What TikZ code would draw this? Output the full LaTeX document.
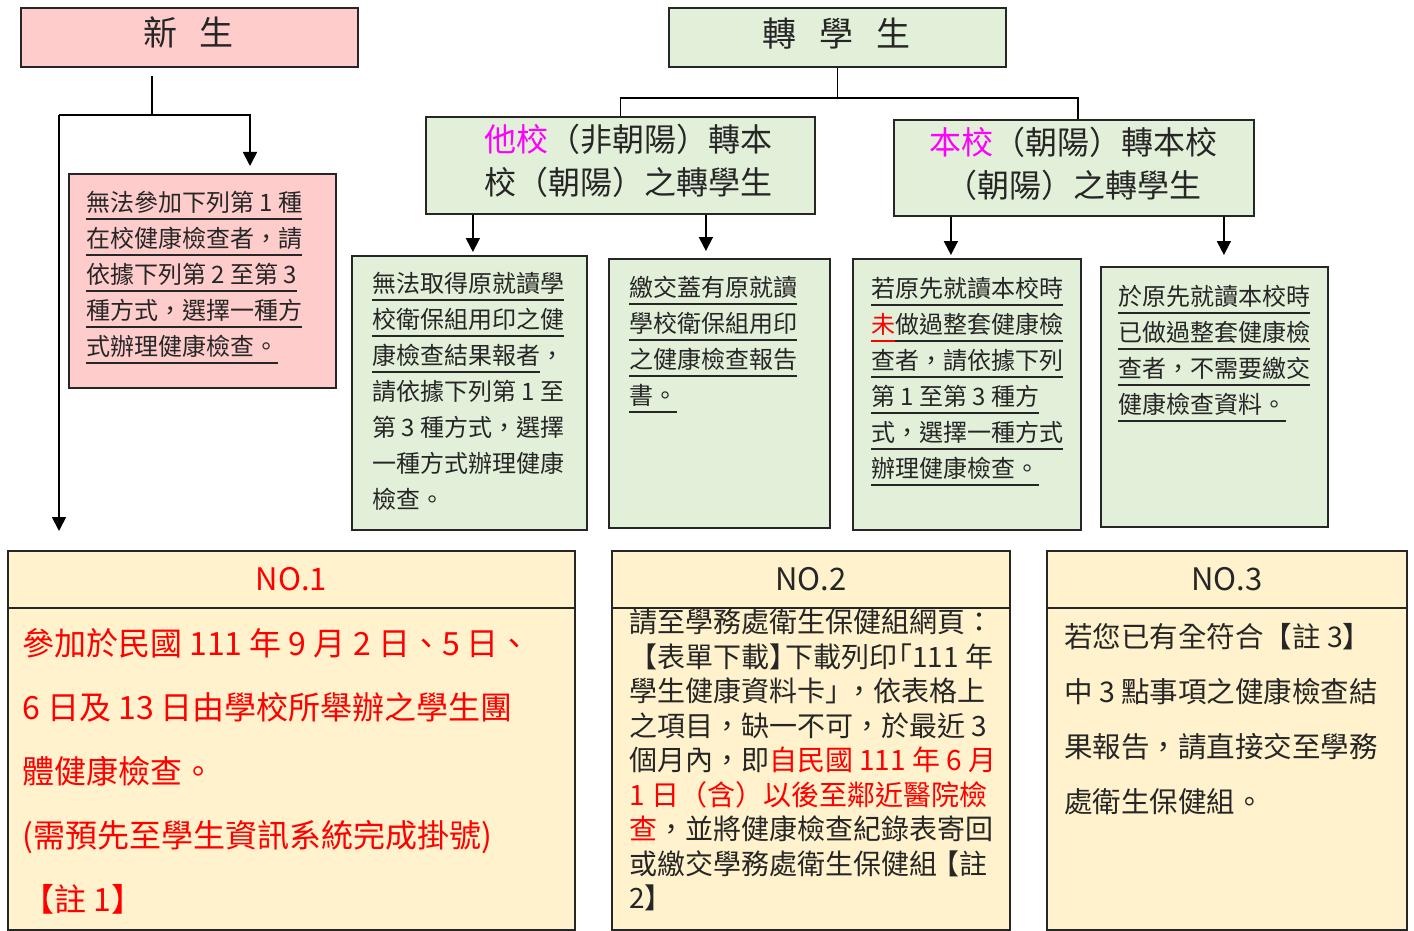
\documentclass[tikz,border=0pt]{standalone}
\usepackage{fontspec}
\setmainfont{Noto Sans CJK TC}
\usetikzlibrary{arrows.meta,calc}
\definecolor{pkc}{HTML}{FFCCCC}
\definecolor{grc}{HTML}{E2EFD9}
\definecolor{ylc}{HTML}{FFF2CC}
\definecolor{mgc}{HTML}{FF00FF}
\definecolor{rdc}{HTML}{FF0000}
\definecolor{txc}{HTML}{262626}
\newcommand\myul[1]{\setbox0=\hbox{#1}\rlap{\rule[-0.36em]{\wd0}{1.8pt}}\box0}
\newcommand\fsz[1]{\fontsize{#1}{#1}\selectfont}
\begin{document}
\begin{tikzpicture}[x=1pt,y=-1pt,
  bx/.style={draw=black!85, line width=1.8pt, inner sep=0pt, anchor=north west},
  lnn/.style={anchor=base west, inner sep=0pt, text=txc},
  arr/.style={line width=1.8pt, -{Triangle[width=14pt,length=14pt]}},
  cn/.style={line width=1.8pt}]
\useasboundingbox (0,0) rectangle (1414,931);

% top boxes
\node[bx, fill=pkc, minimum width=337pt, minimum height=59pt] (xs) at (20,7) {};
\node[anchor=base, inner sep=0pt, font=\fsz{34}, text=txc] (xst) at (188.5,46) {新\hspace{23pt}生};
\node[bx, fill=grc, minimum width=337pt, minimum height=59pt] (zx) at (668,7) {};
\node[anchor=base, inner sep=0pt, font=\fsz{34}, text=txc] (zxt) at (836.5,47) {轉\hspace{23pt}學\hspace{23pt}生};

\node[bx, fill=grc, minimum width=389pt, minimum height=97pt] (other) at (425,116) {};
\node[lnn, font=\fsz{32}] (o1) at (484,152) {\textcolor{mgc}{他校}（非朝陽）轉本};
\node[lnn, font=\fsz{32}] (o2) at (484,194) {校（朝陽）之轉學生};

\node[bx, fill=grc, minimum width=360pt, minimum height=96pt] (own) at (893,119) {};
\node[anchor=base, inner sep=0pt, text=txc, font=\fsz{32}] (w1) at (1073,155) {\textcolor{mgc}{本校}（朝陽）轉本校};
\node[anchor=base, inner sep=0pt, text=txc, font=\fsz{32}] (w2) at (1073,197) {（朝陽）之轉學生};

% connectors of transfer
\draw[cn] (zx.south) -- ++(0,30) coordinate (zj);
\draw[cn] (other.north) |- (zj) -| ($(own.north)+(4,0)$);

% second row boxes
\node[bx, fill=pkc, minimum width=267pt, minimum height=214pt] (pkbox) at (68,173) {};
\node[bx, fill=grc, minimum width=235pt, minimum height=274pt] (ca) at (351,255) {};
\node[bx, fill=grc, minimum width=221pt, minimum height=269pt] (cb) at (608,258) {};
\node[bx, fill=grc, minimum width=228pt, minimum height=271pt] (cc) at (852,258) {};
\node[bx, fill=grc, minimum width=227pt, minimum height=260pt] (cd) at (1100,266) {};

% arrows
\draw[arr] ($(other.south -| ca.north)+(3.5,0)$) -- ($(ca.north)+(3.5,-3)$);
\draw[arr] ($(other.south -| cb.north)+(-13.5,0)$) -- ($(cb.north)+(-13.5,-7)$);
\draw[arr] ($(own.south -| cc.north)+(-16,0)$) -- ($(cc.north)+(-16,-3)$);
\draw[arr] ($(own.south -| cd.north)+(9.5,0)$) -- ($(cd.north)+(9.5,-11)$);

% new student tree
\coordinate (j0) at (152,76);
\coordinate (j1) at (152,115);
\coordinate (jl) at (59,115);
\coordinate (jr) at (250,115);
\coordinate (pkin) at (250,166);
\coordinate (no1in) at (59,531);
\draw[cn] (j0) -- (j1);
\draw[arr] (jl) -- (jr) -- (pkin);
\draw[arr] (jl) -- (no1in);

% texts second row
\foreach \myline [count=\i] in {{\myul{無法參加下列第 1 種}},{\myul{在校健康檢查者，請}},{\myul{依據下列第 2 至第 3}},{\myul{種方式，選擇一種方}},{\myul{式辦理健康檢查。}}}
  \node[lnn, font=\fsz{24}] (p\i) at (86,{211.6+36*(\i-1)}) {\myline};

\foreach \myline [count=\i] in {{\myul{無法取得原就讀學}},{\myul{校衛保組用印之健}},{\myul{康檢查結果報者}，},{請依據下列第 1 至},{第 3 種方式，選擇},{一種方式辦理健康},{檢查。}}
  \node[lnn, font=\fsz{24}] (a\i) at (372,{292.6+36*(\i-1)}) {\myline};

\foreach \myline [count=\i] in {{\myul{繳交蓋有原就讀}},{\myul{學校衛保組用印}},{\myul{之健康檢查報告}},{\myul{書。}}}
  \node[lnn, font=\fsz{24}] (b\i) at (629,{296+36*(\i-1)}) {\myline};

\foreach \myline [count=\i] in {{\myul{若原先就讀本校時}},{\textcolor{rdc}{\myul{未}}\myul{做過整套健康檢}},{\myul{查者，請依據下列}},{\myul{第 1 至第 3 種方}},{\myul{式，選擇一種方式}},{\myul{辦理健康檢查。}}}
  \node[lnn, font=\fsz{24}] (c\i) at (871,{297.6+36*(\i-1)}) {\myline};

\foreach \myline [count=\i] in {{\myul{於原先就讀本校時}},{\myul{已做過整套健康檢}},{\myul{查者，不需要繳交}},{\myul{健康檢查資料。}}}
  \node[lnn, font=\fsz{24}] (d\i) at (1118,{305+36*(\i-1)}) {\myline};

% bottom boxes
\node[bx, fill=ylc, minimum width=567pt, minimum height=322pt] (b1) at (7,607) {};
\node[bx, fill=ylc, minimum width=398pt, minimum height=322pt] (b2) at (611,607) {};
\node[bx, fill=ylc, minimum width=360pt, minimum height=322pt] (b3) at (1046,607) {};

\foreach \myline [count=\i] in {{參加於民國 111 年 9 月 2 日、5 日、},{6 日及 13 日由學校所舉辦之學生團},{體健康檢查。},{(需預先至學生資訊系統完成掛號)},{【註 1】}}
  \node[lnn, font=\fsz{32}, text=rdc] (n1\i) at (22,{655+64*(\i-1)}) {\myline};

\foreach \myline [count=\i] in {{請至學務處衛生保健組網頁：},{【表單下載】\hspace{-12pt}下載列印\hspace{-13pt}「111 年},{學生健康資料卡」\hspace{-8pt}，依表格上},{之項目，缺一不可，於最近 3},{個月內，即\textcolor{rdc}{自民國 111 年 6 月}},{\textcolor{rdc}{1 日（含）以後至鄰近醫院檢}},{\textcolor{rdc}{查}，並將健康檢查紀錄表寄回},{或繳交學務處衛生保健組\hspace{-6pt}【註},{2】}}
  \node[lnn, font=\fsz{28}] (n2\i) at (629,{632.6+34.5*(\i-1)}) {\myline};

\foreach \myline [count=\i] in {{若您已有全符合【註 3】},{中 3 點事項之健康檢查結},{果報告，請直接交至學務},{處衛生保健組。}}
  \node[lnn, font=\fsz{28.5}] (n3\i) at (1064,{647.5+55*(\i-1)}) {\myline};

\node[bx, fill=ylc, minimum width=567pt, minimum height=57pt, font=\fsz{31}, text=rdc] (h1) at (7,550) {NO.1};
\node[bx, fill=ylc, minimum width=398pt, minimum height=57pt, font=\fsz{31}, text=txc] (h2) at (611,550) {NO.2};
\node[bx, fill=ylc, minimum width=360pt, minimum height=57pt, font=\fsz{31}, text=txc] (h3) at (1046,550) {NO.3};
\end{tikzpicture}
\end{document}
